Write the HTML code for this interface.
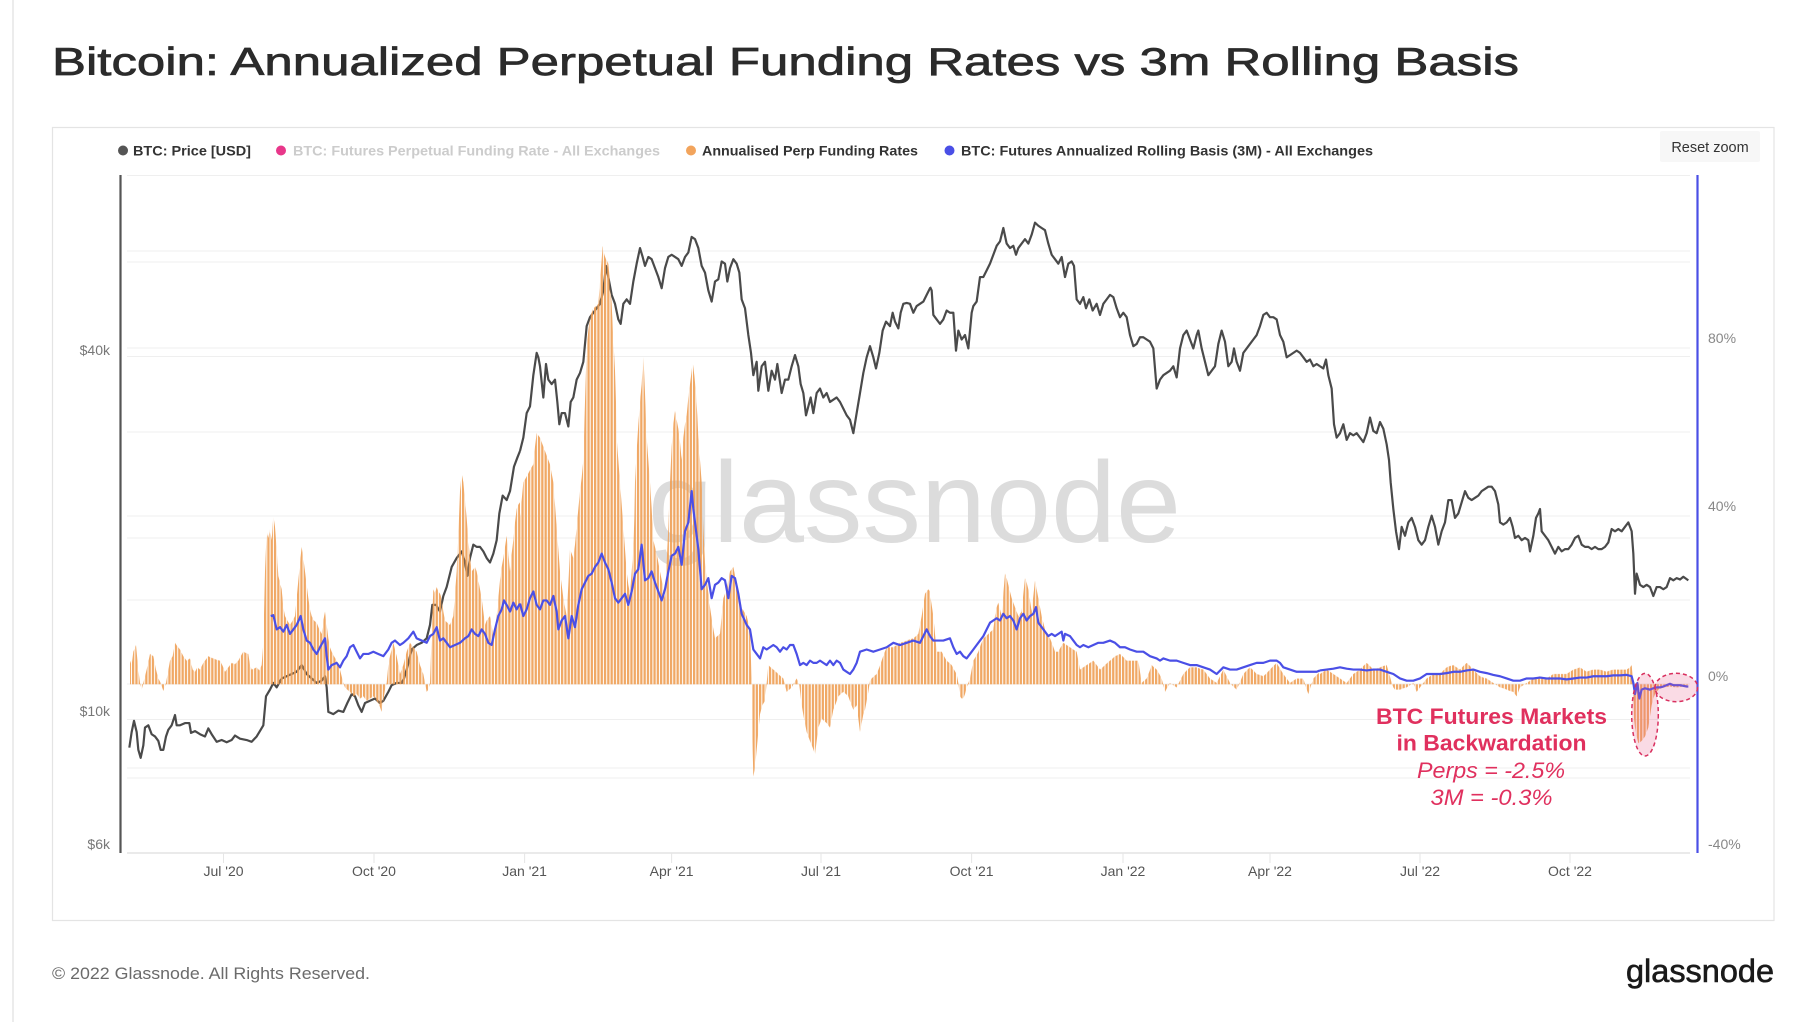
<!DOCTYPE html>
<html><head><meta charset="utf-8"><style>html,body{margin:0;padding:0;background:#fff;}svg{display:block;}</style></head>
<body>
<svg width="1816" height="1022" viewBox="0 0 1816 1022" xmlns="http://www.w3.org/2000/svg" font-family="'Liberation Sans', sans-serif">
<defs>
  <pattern id="stripes" patternUnits="userSpaceOnUse" width="3.3" height="10"><rect x="0" y="0" width="2.3" height="10" fill="#fff"/></pattern>
  <mask id="barmask" maskUnits="userSpaceOnUse" x="0" y="0" width="1816" height="1022"><rect x="0" y="0" width="1816" height="1022" fill="url(#stripes)"/></mask>
</defs>
<rect x="0" y="0" width="1816" height="1022" fill="#fff"/>
<line x1="13" y1="0" x2="13" y2="1022" stroke="#e6e6e6" stroke-width="1.5"/>

<text x="52" y="75" font-size="39" textLength="1467" lengthAdjust="spacingAndGlyphs" fill="#2b2b2b" stroke="#2b2b2b" stroke-width="0.7">Bitcoin: Annualized Perpetual Funding Rates vs 3m Rolling Basis</text>

<rect x="52.5" y="127.5" width="1721.5" height="793" fill="#fff" stroke="#e4e4e4" stroke-width="1.2"/>

<!-- legend -->
<circle cx="123" cy="150.5" r="5" fill="#555"/>
<text x="133" y="155.5" font-size="14" font-weight="bold" fill="#333" textLength="118" lengthAdjust="spacingAndGlyphs">BTC: Price [USD]</text>
<circle cx="281" cy="150.5" r="5" fill="#e8378a"/>
<text x="293" y="155.5" font-size="14" font-weight="bold" fill="#cccccc" textLength="367" lengthAdjust="spacingAndGlyphs">BTC: Futures Perpetual Funding Rate - All Exchanges</text>
<circle cx="691" cy="150.5" r="5" fill="#f2a45c"/>
<text x="702" y="155.5" font-size="14" font-weight="bold" fill="#333" textLength="216" lengthAdjust="spacingAndGlyphs">Annualised Perp Funding Rates</text>
<circle cx="949.5" cy="150.5" r="5" fill="#4a4fe6"/>
<text x="961" y="155.5" font-size="14" font-weight="bold" fill="#333" textLength="412" lengthAdjust="spacingAndGlyphs">BTC: Futures Annualized Rolling Basis (3M) - All Exchanges</text>

<rect x="1660" y="131" width="100" height="31" rx="2" fill="#f7f7f7"/>
<text x="1710" y="152" font-size="14.5" fill="#333" text-anchor="middle">Reset zoom</text>

<!-- gridlines -->
<g stroke="#efefef" stroke-width="1">
  <line x1="127" y1="175.5" x2="1690" y2="175.5"/>
  <line x1="127" y1="251" x2="1690" y2="251"/>
  <line x1="127" y1="262" x2="1690" y2="262"/>
  <line x1="127" y1="348" x2="1690" y2="348"/>
  <line x1="127" y1="356.5" x2="1690" y2="356.5"/>
  <line x1="127" y1="432" x2="1690" y2="432"/>
  <line x1="127" y1="516" x2="1690" y2="516"/>
  <line x1="127" y1="538" x2="1690" y2="538"/>
  <line x1="127" y1="600" x2="1690" y2="600"/>
  <line x1="127" y1="684" x2="1690" y2="684"/>
  <line x1="127" y1="719.5" x2="1690" y2="719.5"/>
  <line x1="127" y1="768" x2="1690" y2="768"/>
  <line x1="127" y1="778" x2="1690" y2="778"/>
</g>
<line x1="127" y1="853" x2="1690" y2="853" stroke="#e3e3e3" stroke-width="1.5"/>
<g stroke="#e6e6e6" stroke-width="1">
  <line x1="223.5" y1="853" x2="223.5" y2="863"/><line x1="374" y1="853" x2="374" y2="863"/>
  <line x1="524.6" y1="853" x2="524.6" y2="863"/><line x1="671.6" y1="853" x2="671.6" y2="863"/>
  <line x1="821" y1="853" x2="821" y2="863"/><line x1="971.6" y1="853" x2="971.6" y2="863"/>
  <line x1="1123" y1="853" x2="1123" y2="863"/><line x1="1270" y1="853" x2="1270" y2="863"/>
  <line x1="1420" y1="853" x2="1420" y2="863"/><line x1="1570" y1="853" x2="1570" y2="863"/>
</g>

<!-- watermark -->
<text x="648" y="542" font-size="115" fill="#dcdcdc" textLength="533" lengthAdjust="spacingAndGlyphs">glassnode</text>

<!-- axes -->
<line x1="120.5" y1="175" x2="120.5" y2="853" stroke="#555" stroke-width="2.2"/>
<line x1="1697.5" y1="175" x2="1697.5" y2="853" stroke="#4a4fe6" stroke-width="2.2"/>

<g font-size="14" fill="#777" text-anchor="end">
  <text x="110" y="355">$40k</text>
  <text x="110" y="716">$10k</text>
  <text x="110" y="849">$6k</text>
</g>
<g font-size="14" fill="#888">
  <text x="1708" y="343">80%</text>
  <text x="1708" y="511">40%</text>
  <text x="1708" y="681">0%</text>
  <text x="1708" y="849">-40%</text>
</g>
<g font-size="14" fill="#555" text-anchor="middle">
  <text x="223.5" y="876">Jul '20</text>
  <text x="374" y="876">Oct '20</text>
  <text x="524.6" y="876">Jan '21</text>
  <text x="671.6" y="876">Apr '21</text>
  <text x="821" y="876">Jul '21</text>
  <text x="971.6" y="876">Oct '21</text>
  <text x="1123" y="876">Jan '22</text>
  <text x="1270" y="876">Apr '22</text>
  <text x="1420" y="876">Jul '22</text>
  <text x="1570" y="876">Oct '22</text>
</g>

<!-- PRICE -->
<g fill="none" stroke="#4a4a4a" stroke-width="2.2" stroke-linejoin="round">
<polyline vector-effect="non-scaling-stroke" transform="translate(110,170) scale(0.333333,0.44603)" points="58,1295 65,1260 72,1235 80,1260 85,1300 92,1318 100,1290 105,1250 115,1245 125,1265 135,1270 145,1280 152,1300 160,1300 168,1270 175,1255 185,1245 195,1222 200,1245 210,1245 225,1240 238,1240 243,1262 255,1258 270,1265 285,1270 295,1252 305,1265 320,1282 335,1278 350,1283 365,1278 375,1268 390,1275 410,1278 425,1282 440,1270 452,1255 460,1245 468,1180 480,1165 490,1150 500,1160 515,1140 530,1135 545,1130 560,1125 575,1110 590,1130 605,1140 620,1150 635,1145 645,1135 650,1160 655,1215 670,1220 685,1212 700,1215 712,1195 725,1175 735,1180 745,1200 755,1215 765,1195 780,1190 795,1185 810,1195 820,1190 835,1170 845,1155 860,1150 875,1150 882,1140 892,1115 905,1075 920,1065 935,1060 950,1050 960,1020 967,975 978,975 990,990 1000,955 1010,935 1025,890 1040,870 1055,855 1065,880 1072,910 1080,870 1090,840 1100,845 1110,845 1120,855 1130,870 1140,880 1150,860 1160,830 1168,770 1178,730 1190,740 1200,720 1212,665 1222,645 1230,630"/>
<polyline vector-effect="non-scaling-stroke" transform="translate(520,170) scale(0.333333,0.44603)" points="0,630 10,600 20,545 30,530 40,460 50,410 55,420 60,440 70,510 78,435 85,470 95,480 105,470 112,520 118,570 125,545 135,545 145,575 152,520 160,510 170,470 180,455 190,430 200,350 210,330 220,320 230,310 240,300 250,270 258,215 265,240 275,280 285,300 295,335 302,345 310,300 320,290 330,300 340,250 350,210 360,175 368,195 375,215 385,195 395,200 405,220 415,240 425,265 435,220 445,195 455,190 465,195 475,200 485,215 495,195 505,185 515,150 525,155 535,175 545,215 555,230 565,270 575,295 585,250 595,245 605,205 615,210 622,250 630,220 640,200 650,210 658,230 665,290 675,310 685,370 693,410 700,460 710,430 715,495 725,440 735,430 745,495 755,450 765,470 772,435 785,500 795,470 805,470 815,440 825,415 835,440 842,480 850,500 858,550 865,530 872,510 880,545 890,500 900,490 910,510 920,500 930,520 940,515 950,510 960,520 970,535 980,550 990,560 1000,590 1010,545 1020,500 1030,455 1040,420 1050,395 1060,420 1068,445 1078,410 1088,360 1098,340 1110,350 1118,320 1125,340 1135,355 1142,320 1150,300 1160,298 1170,300 1180,320 1190,305 1200,300 1210,295 1220,280 1230,265"/>
<polyline vector-effect="non-scaling-stroke" transform="translate(930,170) scale(0.333333,0.44603)" points="0,262 5,270 10,325 20,335 30,345 40,335 50,315 60,320 70,320 78,405 85,360 95,380 105,370 115,400 125,320 130,305 140,295 150,240 160,240 170,225 180,210 190,190 200,170 210,160 220,130 230,165 240,175 250,170 258,190 265,175 275,165 285,155 295,165 305,145 315,118 325,125 335,130 345,135 355,165 365,190 375,200 385,210 395,195 405,240 415,210 425,205 432,215 440,290 450,300 460,285 468,310 478,290 488,315 500,300 510,325 520,300 530,290 540,280 550,285 560,310 570,330 580,320 590,330 600,370 610,395 620,390 630,375 640,375 650,380 660,385 670,400 680,490 690,470 700,460 710,455 720,450 730,440 740,465 750,400 760,370 770,360 780,380 790,400 800,370 805,360 815,400 825,430 835,460 845,450 855,440 865,390 875,360 885,385 895,440 905,430 912,400 920,430 930,450 940,410 950,400 960,390 970,380 980,370 990,350 1000,325 1010,320 1020,330 1030,330 1040,335 1050,370 1060,385 1070,420 1080,415 1090,410 1100,405 1110,410 1120,420 1130,430 1140,425 1150,440 1160,435 1170,440"/>
<polyline vector-effect="non-scaling-stroke" transform="translate(1320,170) scale(0.333333,0.44603)" points="0,440 10,445 18,425 25,460 35,490 42,570 50,600 60,590 70,570 80,605 90,590 100,595 110,590 120,600 130,610 140,590 150,555 160,585 170,590 180,565 190,580 200,615 207,650 212,700 220,760 228,810 237,850 245,800 255,820 265,790 275,780 285,800 295,830 305,840 315,830 325,800 335,775 345,800 355,840 365,810 375,790 385,740 395,740 405,780 415,770 425,745 435,720 445,735 455,740 465,735 475,730 485,720 495,715 505,710 515,710 525,720 535,750 540,790 550,795 560,790 570,780 578,800 585,825 595,820 605,830 615,825 625,830 630,855 640,820 648,780 655,770 660,760 665,810 675,820 685,830 695,845 705,860 715,845 725,855 735,850 745,850 755,840 765,825 775,820 785,840 795,845 805,845 815,850 825,845 835,850 845,850 855,845 865,835 875,805 885,810 895,805 905,810 915,800 925,790 935,810 940,860 945,950 950,905 960,930 970,935 980,930 990,935 1000,955 1010,935 1020,935 1030,940 1040,935 1050,915 1060,920 1070,915 1080,918 1090,912 1105,920"/>
</g>

<!-- ORANGE BARS -->
<g mask="url(#barmask)" fill="#efa158" opacity="0.92">
<polygon transform="translate(110,170) scale(0.333333,0.44603)" points="60,1153 60,1100 65,1110 70,1080 78,1065 85,1120 90,1150 95,1165 100,1150 110,1120 120,1085 130,1090 138,1120 145,1140 152,1150 160,1168 168,1150 180,1100 188,1090 195,1060 202,1068 210,1075 220,1090 230,1100 240,1095 248,1120 255,1125 262,1115 270,1120 280,1105 295,1090 302,1093 310,1095 320,1098 330,1100 338,1112 345,1125 355,1115 365,1105 375,1108 385,1100 392,1090 400,1080 408,1083 415,1085 420,1110 425,1120 432,1118 440,1115 448,1122 455,1110 460,1060 465,900 470,810 475,825 480,805 485,830 490,775 495,800 500,850 505,910 510,925 515,940 520,980 525,1000 532,1010 540,1020 548,1010 555,1000 560,960 565,920 570,880 575,845 580,870 585,900 590,930 595,960 600,985 605,1000 612,1010 620,1015 628,1030 635,1040 640,1010 645,990 650,1020 655,1050 660,1070 665,1080 672,1090 680,1100 686,1112 690,1120 695,1135 700,1150 705,1160 712,1165 720,1170 730,1180 740,1175 750,1185 760,1180 770,1190 780,1185 790,1180 800,1190 808,1200 815,1215 820,1190 825,1165 830,1150 835,1110 840,1090 845,1075 850,1060 855,1075 860,1090 865,1110 870,1130 875,1120 880,1110 885,1095 890,1080 895,1070 900,1060 905,1065 910,1070 915,1075 920,1080 925,1095 930,1110 935,1120 940,1130 945,1150 950,1170 955,1165 960,1150 965,1040 970,940 975,950 980,935 985,945 990,950 995,960 1000,990 1005,1010 1012,1015 1020,1020 1025,1010 1030,1000 1035,950 1040,900 1045,820 1050,720 1055,680 1060,700 1065,740 1070,780 1075,830 1080,870 1085,900 1090,895 1095,890 1100,900 1105,920 1110,940 1115,960 1120,990 1125,1020 1130,1010 1135,1005 1140,1000 1145,1020 1150,1050 1155,1030 1160,1000 1165,960 1170,920 1175,890 1180,870 1185,845 1190,820 1195,860 1200,900 1205,860 1210,830 1215,790 1220,760 1225,750 1230,745 1230,1153"/>
<polygon transform="translate(520,170) scale(0.333333,0.44603)" points="0,1153 0,780 5,740 10,700 18,690 25,680 32,670 40,660 45,620 50,590 55,595 60,600 65,610 70,620 75,630 80,640 85,650 90,660 95,680 100,700 105,750 110,800 115,850 120,900 125,930 130,960 135,980 140,1000 145,930 150,850 155,860 160,870 165,840 170,800 175,760 180,720 185,690 190,650 195,520 200,400 205,360 210,330 215,320 220,310 228,305 235,300 242,230 248,170 253,190 258,200 262,205 265,210 270,250 275,300 280,380 285,450 288,520 290,600 295,650 300,700 305,750 310,800 315,850 320,900 325,930 330,950 335,900 340,850 343,780 345,700 350,630 355,570 360,520 365,480 368,440 370,410 375,500 380,600 385,650 390,700 395,760 400,830 405,845 410,860 415,880 420,900 428,930 435,960 440,880 445,800 450,700 455,620 460,570 465,540 470,560 475,580 480,610 485,650 490,600 495,570 500,550 505,510 510,480 515,450 518,430 523,460 528,500 532,550 535,600 540,650 545,700 550,800 555,880 562,930 570,980 578,1020 585,1050 592,1045 600,1040 605,1000 610,960 615,950 620,940 625,920 630,900 635,895 640,890 648,920 655,950 660,965 665,980 672,990 680,1000 685,1015 690,1030 693,1100 695,1153 698,1300 700,1360 705,1340 710,1300 715,1260 720,1220 727,1200 735,1190 740,1150 745,1110 752,1115 760,1120 768,1125 775,1130 782,1135 790,1140 795,1155 800,1170 808,1165 815,1160 822,1150 830,1140 838,1155 845,1200 852,1230 860,1260 865,1270 870,1280 878,1295 885,1310 890,1280 895,1250 900,1240 905,1230 912,1235 920,1240 925,1245 930,1250 935,1230 940,1210 948,1195 955,1180 962,1175 970,1170 978,1175 985,1180 992,1195 1000,1210 1005,1205 1010,1200 1015,1230 1020,1260 1025,1240 1030,1220 1035,1210 1040,1190 1045,1170 1050,1145 1055,1140 1062,1135 1070,1130 1078,1115 1085,1100 1092,1085 1100,1070 1110,1070 1120,1070 1130,1065 1140,1060 1150,1058 1160,1055 1170,1052 1180,1050 1188,1045 1195,1040 1200,1020 1205,1000 1210,975 1215,950 1220,945 1225,940 1230,945 1230,1153"/>
<polygon transform="translate(930,170) scale(0.333333,0.44603)" points="0,1153 0,950 5,975 10,1000 15,1040 20,1080 28,1080 35,1080 42,1090 50,1100 58,1105 65,1110 72,1120 80,1130 85,1150 90,1180 95,1185 100,1185 105,1175 110,1160 115,1150 120,1140 125,1120 130,1100 138,1090 145,1080 152,1065 160,1050 168,1045 175,1040 182,1035 190,1030 195,1000 200,980 205,970 210,985 215,1000 220,950 225,905 230,915 235,930 240,945 245,960 250,970 255,980 260,990 265,1000 270,995 275,990 280,950 285,915 290,925 295,940 300,965 305,990 310,955 315,920 320,940 325,960 330,980 335,1000 340,1015 345,1030 352,1040 360,1050 368,1065 375,1080 385,1080 392,1070 400,1060 410,1065 420,1070 430,1075 440,1080 445,1100 450,1120 460,1115 470,1110 480,1105 490,1100 500,1110 510,1120 518,1115 525,1110 532,1105 540,1100 548,1095 555,1090 562,1088 570,1085 580,1092 590,1100 600,1100 610,1100 618,1100 625,1100 630,1125 635,1150 642,1145 650,1140 658,1125 665,1110 672,1115 680,1120 688,1130 695,1140 700,1155 705,1170 712,1160 720,1150 730,1155 740,1160 750,1145 760,1130 770,1122 780,1115 790,1115 800,1115 810,1118 820,1120 830,1130 840,1140 850,1145 860,1150 870,1135 880,1120 890,1135 900,1150 910,1158 920,1165 930,1148 940,1130 950,1122 960,1115 970,1122 980,1130 990,1132 1000,1135 1010,1128 1020,1120 1030,1112 1040,1105 1050,1118 1060,1130 1070,1140 1080,1150 1090,1145 1100,1140 1110,1140 1120,1140 1128,1160 1135,1175 1142,1158 1150,1140 1160,1132 1170,1125 1170,1153"/>
<polygon transform="translate(1320,170) scale(0.333333,0.44603)" points="0,1153 0,1130 10,1125 20,1120 30,1125 40,1130 50,1135 60,1140 70,1145 80,1150 90,1140 100,1130 110,1125 120,1120 130,1112 140,1105 150,1112 160,1120 170,1118 180,1115 190,1112 200,1110 208,1130 215,1150 220,1160 225,1165 232,1165 240,1165 250,1162 260,1160 270,1155 280,1150 285,1160 290,1170 295,1165 300,1160 310,1150 320,1140 330,1135 340,1130 350,1130 360,1130 370,1122 380,1115 390,1112 400,1110 410,1115 420,1120 430,1112 440,1105 450,1112 460,1120 470,1128 480,1135 490,1138 500,1140 510,1145 520,1150 530,1155 540,1160 550,1162 560,1165 570,1168 580,1170 585,1175 590,1180 595,1170 600,1160 610,1155 620,1150 630,1145 640,1140 650,1138 660,1135 670,1138 680,1140 690,1135 700,1130 720,1130 740,1130 750,1125 760,1120 770,1118 780,1115 790,1120 800,1125 810,1122 820,1120 840,1120 860,1125 870,1122 880,1120 900,1120 920,1120 930,1115 935,1110 940,1153 942,1230 945,1250 950,1270 955,1285 960,1283 965,1280 970,1275 975,1270 980,1260 985,1250 990,1225 995,1200 1000,1185 1005,1175 1010,1170 1015,1165 1022,1162 1030,1160 1040,1159 1050,1158 1060,1159 1070,1160 1080,1159 1090,1158 1100,1156 1105,1153"/>
</g>

<!-- BLUE BASIS -->
<g fill="none" stroke="#4a4fe6" stroke-width="2.2" stroke-linejoin="round">
<polyline vector-effect="non-scaling-stroke" transform="translate(110,170) scale(0.333333,0.44603)" points="482,1000 490,998 500,1030 510,1025 520,1035 530,1020 540,1040 550,1030 560,1020 572,1000 580,1030 590,1055 600,1060 610,1075 620,1085 630,1070 645,1050 650,1090 655,1120 665,1110 680,1105 690,1115 700,1100 710,1090 720,1070 730,1065 740,1080 750,1095 760,1085 775,1085 790,1080 805,1085 820,1090 835,1075 845,1060 855,1055 870,1065 880,1060 895,1050 910,1035 920,1050 935,1055 950,1060 960,1045 970,1040 980,1025 990,1055 1000,1050 1010,1060 1020,1070 1035,1065 1050,1060 1065,1050 1075,1045 1085,1030 1095,1040 1105,1045 1115,1030 1125,1040 1135,1060 1145,1065 1155,1030 1165,1000 1175,985 1182,965 1190,975 1200,990 1210,970 1220,985 1230,972"/>
<polyline vector-effect="non-scaling-stroke" transform="translate(520,170) scale(0.333333,0.44603)" points="0,972 10,1000 20,985 30,960 40,945 50,975 60,985 70,965 80,965 90,975 100,955 110,990 115,1030 125,1010 135,1000 145,1050 155,1000 165,1025 175,975 185,940 195,925 205,910 215,905 225,890 235,880 245,860 255,880 265,895 275,925 285,960 295,970 305,960 315,950 325,975 335,945 345,905 355,895 365,840 375,920 385,915 395,900 405,925 415,945 425,965 435,940 445,900 455,865 465,860 475,845 485,885 495,810 505,790 515,720 520,760 525,790 535,850 545,940 555,930 565,915 575,960 585,930 595,925 605,915 615,920 625,960 635,910 645,915 655,950 665,995 680,1020 690,1030 700,1075 710,1085 720,1095 730,1070 740,1075 750,1070 760,1065 770,1070 780,1080 790,1070 800,1075 810,1065 820,1065 830,1085 840,1110 850,1105 860,1110 870,1100 880,1105 890,1105 900,1100 910,1105 920,1110 930,1100 940,1110 950,1100 960,1105 970,1120 980,1125 990,1130 1000,1120 1010,1105 1020,1080 1040,1075 1060,1080 1080,1075 1100,1070 1120,1060 1140,1065 1160,1060 1180,1055 1200,1060 1210,1045 1220,1030 1230,1045"/>
<polyline vector-effect="non-scaling-stroke" transform="translate(930,170) scale(0.333333,0.44603)" points="0,1045 10,1055 20,1055 40,1055 60,1050 70,1070 80,1085 90,1080 100,1090 110,1095 120,1085 130,1075 140,1065 150,1055 160,1045 170,1030 180,1015 200,1005 210,1010 220,995 230,1005 240,1000 250,1010 260,1030 270,1005 280,995 290,1010 300,1000 310,995 318,980 325,1015 335,1025 345,1035 355,1045 365,1040 375,1045 385,1040 395,1035 400,1055 405,1040 420,1045 430,1055 440,1065 450,1070 460,1065 475,1070 490,1065 505,1060 520,1060 540,1055 555,1060 570,1070 585,1070 600,1075 620,1080 640,1080 660,1090 680,1095 690,1100 700,1095 720,1100 740,1100 760,1105 780,1110 800,1110 820,1115 840,1120 860,1130 880,1115 900,1120 920,1120 940,1115 960,1110 980,1105 1000,1105 1020,1100 1040,1100 1050,1105 1060,1115 1080,1120 1100,1125 1120,1125 1140,1125 1160,1125 1170,1122"/>
<polyline vector-effect="non-scaling-stroke" transform="translate(1320,170) scale(0.333333,0.44603)" points="0,1122 20,1120 40,1118 60,1115 80,1118 100,1120 120,1120 140,1122 160,1120 180,1120 200,1125 220,1130 240,1140 260,1145 280,1145 300,1140 320,1130 340,1130 360,1130 380,1128 400,1125 420,1125 440,1122 460,1120 480,1125 500,1128 520,1132 540,1135 560,1140 580,1145 600,1145 620,1140 640,1140 660,1138 680,1140 700,1140 720,1140 740,1142 760,1140 780,1138 800,1138 820,1135 840,1135 860,1135 880,1133 900,1133 920,1132 935,1135 940,1150 945,1175 952,1150 958,1185 965,1165 975,1162 990,1165 1000,1162 1010,1160 1020,1160 1030,1158 1040,1155 1050,1152 1060,1155 1080,1155 1100,1158 1105,1158"/>
</g>

<!-- annotation -->
<ellipse cx="1645" cy="714.7" rx="13.3" ry="41.3" fill="rgba(232,90,135,0.22)" stroke="#d9305f" stroke-width="1.5" stroke-dasharray="4,3"/>
<ellipse cx="1676.3" cy="687.5" rx="21.3" ry="14.2" fill="rgba(232,90,135,0.22)" stroke="#d9305f" stroke-width="1.5" stroke-dasharray="4,3"/>
<g fill="#e0305e" text-anchor="middle">
  <text x="1491.5" y="724" font-size="22" font-weight="bold" textLength="231" lengthAdjust="spacingAndGlyphs">BTC Futures Markets</text>
  <text x="1491.5" y="750.7" font-size="22" font-weight="bold" textLength="190" lengthAdjust="spacingAndGlyphs">in Backwardation</text>
  <text x="1491" y="778" font-size="22" font-style="italic" textLength="148" lengthAdjust="spacingAndGlyphs">Perps = -2.5%</text>
  <text x="1491.5" y="805" font-size="22" font-style="italic" textLength="122" lengthAdjust="spacingAndGlyphs">3M = -0.3%</text>
</g>

<!-- footer -->
<text x="52" y="979" font-size="17" fill="#6b6b6b" textLength="318" lengthAdjust="spacingAndGlyphs">© 2022 Glassnode. All Rights Reserved.</text>
<text x="1626" y="982" font-size="32" fill="#1a1a1a" stroke="#1a1a1a" stroke-width="0.6" textLength="148" lengthAdjust="spacingAndGlyphs">glassnode</text>
</svg>
</body></html>
